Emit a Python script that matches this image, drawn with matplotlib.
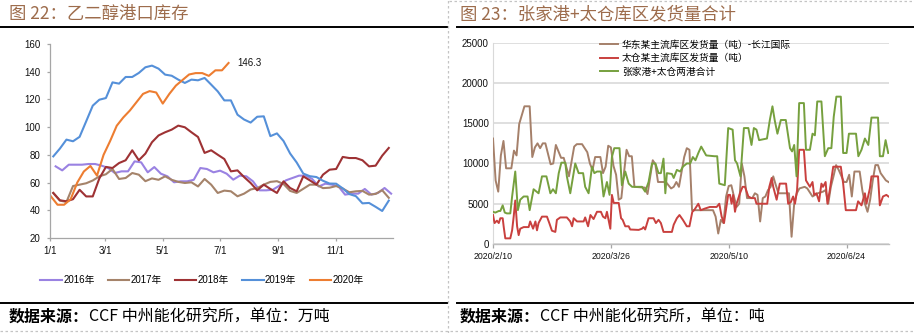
import numpy as np
import pandas as pd
import matplotlib
matplotlib.use("Agg")
import matplotlib.pyplot as plt
from matplotlib.lines import Line2D

plt.rcParams['font.family'] = ['Liberation Sans', 'Noto Sans CJK SC']
CJK = ['Noto Sans CJK SC', 'Liberation Sans']

W, H = 914, 333

# ---------------- left panel: MEG port inventory (weekly, 万吨) ----------------
month_ticks = [0, 59, 120, 181, 243, 304]
month_labels = ['1/1', '3/1', '5/1', '7/1', '9/1', '11/1']
year_labels = ['2016年', '2017年', '2018年', '2019年', '2020年']
year_colors = ['#9a82e2', '#a5836a', '#9e3234', '#5590d9', '#ed7d31']
first_day = [6, 3.5, 3.5, 3.5, 1]

inv_2016 = [71.7, 68.8, 72.9, 72.9, 72.9, 73.4, 73.4, 72.2, 70.5, 66.9, 68.1, 68.1, 75.3,
            74.6, 67.4, 71.2, 66.4, 64.5, 60.2, 60.9, 60.9, 62.0, 70.5, 69.8, 67.4, 68.6,
            66.4, 62.1, 65.0, 64.5, 60.9, 54.4, 54.4, 54.8, 57.7, 61.6, 63.3, 65.0, 65.0,
            62.6, 57.2, 59.2, 58.5, 57.2, 51.3, 52.0, 52.0, 55.4, 51.3, 52.5, 56.1, 52.0]
inv_2017 = [52.5, 47.0, 46.0, 57.5, 58.5, 59.5, 61.5, 64.5, 66.0, 69.8, 62.6, 63.3, 66.9,
            65.7, 61.0, 63.0, 62.0, 64.5, 62.0, 60.5, 59.7, 60.2, 57.2, 62.6, 58.5, 52.5,
            54.2, 53.7, 50.1, 52.0, 55.0, 56.0, 58.5, 60.5, 61.0, 59.0, 54.0, 52.5, 55.5,
            58.5, 58.5, 56.0, 56.3, 57.5, 55.7, 53.0, 53.7, 54.0, 51.3, 51.8, 54.5, 49.0]
inv_2018 = [52.5, 47.2, 46.5, 48.0, 54.8, 50.0, 50.0, 63.0, 71.3, 70.5, 74.1, 76.1, 83.3,
            76.1, 80.9, 89.1, 94.0, 96.3, 98.2, 101.1, 99.9, 96.3, 92.9, 81.4, 83.3, 80.1,
            77.0, 68.1, 68.8, 64.0, 59.7, 54.4, 58.5, 55.4, 52.5, 60.9, 56.1, 53.7, 64.5,
            61.6, 58.5, 65.7, 69.3, 69.8, 78.5, 77.7, 77.7, 76.1, 71.7, 72.2, 79.4, 85.0]
inv_2019 = [78.9, 84.5, 91.0, 89.8, 93.0, 104.2, 115.5, 119.8, 121.0, 132.3, 131.4, 136.2,
            136.2, 139.1, 143.2, 144.4, 142.2, 137.9, 137.1, 134.3, 131.9, 134.3, 133.8,
            135.5, 130.7, 125.8, 119.3, 119.3, 109.0, 105.5, 103.3, 107.5, 107.8, 93.5,
            95.5, 90.0, 81.0, 74.5, 66.5, 64.6, 64.0, 61.3, 59.3, 59.2, 55.8, 51.7, 50.2,
            45.0, 45.3, 42.5, 39.5, 47.0]
inv_2020 = [50.0, 44.0, 44.0, 48.0, 60.0, 68.0, 72.0, 65.0, 80.0, 90.0, 101.0, 107.0, 112.0,
            118.0, 124.0, 126.0, 125.0, 117.0, 124.0, 130.0, 134.0, 138.0, 139.0, 139.0,
            137.0, 141.0, 141.0, 146.3]
inventories = [inv_2016, inv_2017, inv_2018, inv_2019, inv_2020]

# ---------------- right panel: daily shipments (吨) ----------------
ship_start = pd.Timestamp('2020-02-10')
ship_tick_days = [0, 45, 90, 135]
ship_labels = ['华东某主流库区发货量（吨）-长江国际', '太仓某主流库区发货量（吨）', '张家港+太仓两港合计']
ship_colors = ['#a5806a', '#c9403e', '#76a03e']

# (days after 2020/2/10, tonnes)
huadong_pts = [(0, 13100), (1, 7900), (2, 6500), (3, 11000), (4, 12800), (5, 9400), (7, 9400),
               (8, 11600), (9, 11000), (10, 14900), (12, 17100), (14, 17100), (15, 10800),
               (16, 12000), (17, 12500), (18, 11900), (19, 12500), (20, 12500), (22, 9900),
               (23, 10000), (24, 12300), (26, 10700), (27, 10700), (29, 8400), (31, 12100),
               (32, 12400), (34, 12400), (36, 11400), (37, 10000), (38, 9200), (39, 10800),
               (41, 10800), (42, 8800), (43, 9600), (44, 12200), (45, 12000), (46, 9700),
               (47, 8600), (48, 5500), (49, 5700), (50, 8800), (51, 11700), (52, 10900),
               (53, 10900), (54, 7100), (58, 7000), (59, 6200), (61, 10400), (62, 9900),
               (63, 7700), (66, 7700), (68, 6900), (69, 7100), (70, 7700), (71, 7100),
               (73, 10800), (74, 11900), (75, 11700), (76, 4200), (84, 4200), (85, 3400),
               (86, 1300), (87, 3000), (88, 2600), (89, 5900), (90, 7200), (91, 7300),
               (92, 5900), (93, 4600), (94, 5000), (95, 10000), (96, 8400), (97, 5700),
               (99, 5700), (100, 6300), (101, 6100), (102, 2800), (103, 5700), (104, 5900),
               (105, 6700), (106, 7100), (107, 8400), (108, 7300), (109, 6300), (113, 6300),
               (114, 900), (115, 5000), (116, 6300), (117, 6900), (119, 7100), (120, 6900),
               (122, 5900), (124, 6300), (126, 6500), (127, 6700), (128, 5000), (129, 7100),
               (130, 8400), (131, 9800), (132, 9200), (134, 7700), (135, 7700), (136, 8600),
               (137, 5900), (138, 9000), (140, 9000), (141, 6700), (142, 5000), (143, 4000),
               (144, 5500), (145, 7900), (146, 9800), (147, 9800), (148, 8800), (150, 7900),
               (151, 7700)]
taicang_pts = [(0, 3600), (0.6, 2600), (1.5, 2900), (2.2, 2600), (2.8, 3200), (3.7, 3200),
               (4.1, 2100), (4.7, 700), (6.6, 700), (7.3, 1700), (7.9, 3400), (8.5, 5400),
               (9.2, 2200), (9.8, 1100), (10.4, 1900), (11.7, 2100), (13.6, 2100), (14.2, 2800),
               (15.3, 1900), (16.2, 2800), (16.8, 1700), (17.4, 2600), (18.7, 3400), (20.6, 3400),
               (21.5, 2600), (22.5, 1650), (23.8, 1500), (24.4, 3000), (25.7, 3300), (28.2, 3300),
               (29.5, 2800), (30.2, 2200), (30.8, 3200), (32.1, 2800), (34.6, 2800), (35.2, 3300),
               (36.3, 2200), (37.2, 3600), (38.4, 3100), (39.7, 4000), (41.2, 4000), (42.0, 3400),
               (42.9, 3200), (43.5, 4000), (44.1, 3000), (44.8, 1900), (45.4, 6100), (46.1, 5100),
               (48.0, 5100), (48.9, 3200), (49.5, 3000), (50.5, 2200), (51.8, 2200), (52.4, 1800),
               (55.6, 1750), (56.9, 1900), (57.5, 2100), (58.1, 1800), (59.4, 3200), (61.3, 3200),
               (62.2, 2600), (63.2, 3000), (64.1, 2600), (65.1, 1500), (68.3, 1500), (69.0, 2400),
               (70.2, 3200), (71.2, 3600), (72.5, 3000), (74.0, 2200), (75.0, 2200), (76.1, 4000),
               (76.8, 4200), (78.4, 5000), (79.3, 4200), (80.9, 4400), (82.8, 4600), (85.4, 4600),
               (86.4, 5000), (87.3, 3400), (88.2, 2600), (89.8, 6100), (90.5, 6100), (91.1, 5000),
               (91.7, 6100), (92.4, 4000), (93.0, 5000), (94.3, 6300), (95.3, 7100), (96.2, 7100),
               (97.5, 5900), (98.7, 5700), (100.0, 5700), (100.6, 5000), (104.7, 5000),
               (105.5, 7100), (106.4, 8200), (107.0, 7100), (108.3, 5500), (109.5, 7500),
               (111.9, 7500), (112.7, 5000), (113.7, 5200), (114.6, 5900), (115.3, 5000),
               (116.1, 6700), (116.9, 11700), (118.7, 11700), (119.5, 7900), (121.0, 7100),
               (122.0, 7700), (122.6, 6100), (123.5, 6300), (124.5, 5300), (125.4, 7500),
               (126.0, 7100), (127.0, 7700), (127.7, 5000), (128.6, 6700), (129.9, 9600),
               (132.8, 9600), (133.7, 7500), (134.7, 4200), (138.6, 4200), (139.4, 5300),
               (140.7, 4800), (142.0, 6300), (142.6, 5000), (143.9, 6900), (144.5, 8400),
               (147.0, 8400), (147.7, 4800), (148.9, 5900), (150.2, 6100), (151.0, 5900)]
total_pts = [(0, 4000), (0.9, 3900), (2.2, 4100), (2.8, 4100), (3.7, 4800), (4.5, 3900),
             (5.3, 3800), (6.6, 3800), (7.3, 5900), (8.5, 9000), (9.5, 4200), (10.4, 5500),
             (11.7, 5900), (13.2, 5900), (14.0, 4200), (15.5, 6800), (17.4, 6300), (18.7, 8400),
             (20.4, 8400), (21.9, 6300), (22.9, 6800), (24.0, 6300), (25.1, 8800), (26.1, 10100),
             (27.6, 10100), (28.2, 8400), (29.5, 6300), (31.4, 10000), (32.7, 8800), (34.4, 8800),
             (35.2, 7100), (36.5, 6300), (37.8, 9600), (38.7, 8800), (39.7, 9000), (41.2, 9000),
             (42.2, 5900), (43.5, 7700), (44.5, 6100), (45.4, 10800), (46.3, 11900),
             (48.3, 11900), (49.2, 7300), (50.5, 9000), (51.8, 7500), (53.1, 7100), (56.9, 7100),
             (58.1, 6500), (59.4, 7700), (60.7, 10000), (62.0, 10000), (63.2, 8800), (64.1, 8800),
             (65.1, 10600), (65.8, 6300), (66.4, 8800), (68.3, 8700), (69.0, 8200), (70.2, 9200),
             (71.5, 9000), (72.5, 9600), (74.0, 10000), (75.3, 10000), (76.3, 10800),
             (77.3, 10400), (78.4, 11300), (79.5, 12100), (81.4, 11000), (84.6, 10900),
             (85.6, 10900), (86.4, 7500), (88.5, 7300), (89.8, 14400), (91.5, 14200),
             (92.4, 10400), (93.2, 10000), (94.5, 8400), (95.8, 14400), (97.5, 14400),
             (98.7, 12300), (99.6, 14400), (100.6, 14200), (101.6, 12900), (104.6, 13100),
             (105.7, 15400), (106.7, 17100), (107.6, 15300), (108.6, 13700), (109.9, 15400),
             (111.8, 15400), (113.4, 11900), (114.2, 11500), (115.0, 12300), (115.9, 8400),
             (116.9, 17500), (118.7, 17500), (119.5, 11700), (121.0, 11700), (122.0, 13700),
             (122.9, 13500), (123.8, 17700), (125.4, 17700), (126.7, 10900), (128.0, 11900),
             (129.2, 11900), (130.1, 15800), (131.1, 18300), (132.8, 18300), (133.7, 11300),
             (135.0, 11300), (135.9, 13700), (138.6, 13700), (139.5, 10900), (140.7, 11700),
             (142.0, 13100), (143.3, 12300), (144.5, 15700), (147.0, 15700), (147.7, 10900),
             (148.9, 10900), (149.9, 12900), (150.9, 11300)]
shipments = [huadong_pts, taicang_pts, total_pts]


def fx(x):
    return x / W


def fy(y):
    return 1 - y / H


fig = plt.figure(figsize=(W / 100, H / 100), dpi=100)
fig.patch.set_facecolor('white')

# ---- left chart ----
ax1 = fig.add_axes([fx(50), fy(238), fx(393 - 50), (238 - 44) / H])
lines = []
for vals, d0, c, lab in zip(inventories, first_day, year_colors, year_labels):
    x = d0 + 7 * np.arange(len(vals))
    ln, = ax1.plot(x, vals, color=c, lw=1.5, label=lab, solid_joinstyle='round')
    lines.append(ln)
x_last = first_day[-1] + 7 * (len(inv_2020) - 1)
ax1.annotate(f'{inv_2020[-1]}', xy=(x_last, inv_2020[-1]), xytext=(6, 0),
             textcoords='offset points', va='center', ha='left', fontsize=7, color='#111111')
ax1.set_xlim(0, 365)
ax1.set_ylim(20, 160)
ax1.set_yticks(np.arange(20, 161, 20))
ax1.set_xticks(month_ticks)
ax1.set_xticklabels(month_labels)
for s in ['top', 'right']:
    ax1.spines[s].set_visible(False)
for s in ['left', 'bottom']:
    ax1.spines[s].set_color('#a6a6a6')
    ax1.spines[s].set_linewidth(0.9)
ax1.tick_params(axis='both', colors='#a6a6a6', labelcolor='#111111', labelsize=7,
                length=2.5, width=0.9)
ax1.tick_params(axis='y', pad=4.5)
ax1.tick_params(axis='x', pad=3.5)

fig.legend(lines, year_labels, ncol=5, loc='center', bbox_to_anchor=(fx(202), fy(280)),
           frameon=False, fontsize=7, handlelength=2.2, handletextpad=0.15,
           columnspacing=1.35, prop={'family': ['Liberation Sans', 'Noto Sans CJK SC'], 'size': 7})

# ---- right chart ----
ax2 = fig.add_axes([fx(493), fy(244), fx(889 - 493), (244 - 42.7) / H])
for pts, c, lab in zip(shipments, ship_colors, ship_labels):
    d = [p[0] for p in pts]
    v = [p[1] for p in pts]
    ax2.plot(d, v, color=c, lw=1.4, label=lab, zorder=3)
ax2.set_xlim(0, 151.2)
ax2.set_ylim(0, 25000)
ax2.set_yticks(np.arange(0, 25001, 5000))
ax2.set_xticks(ship_tick_days)
tick_dates = [ship_start + pd.Timedelta(days=d) for d in ship_tick_days]
ax2.set_xticklabels([f'{t.year}/{t.month}/{t.day}' for t in tick_dates])
ax2.grid(axis='y', color='#d9d9d9', lw=1.2, zorder=0)
ax2.set_axisbelow(True)
for s in ['top', 'right']:
    ax2.spines[s].set_visible(False)
ax2.spines['left'].set_color('#d9d9d9')
ax2.spines['bottom'].set_color('#bfbfbf')
ax2.spines['bottom'].set_linewidth(1.0)
ax2.tick_params(axis='y', length=0, labelsize=7, pad=3, labelcolor='#111111')
ax2.tick_params(axis='x', length=3, width=0.9, color='#a6a6a6', labelsize=6.3, pad=3,
                labelcolor='#111111')
ax2.legend(loc='upper left', bbox_to_anchor=(0.27, 1.015), frameon=False,
           prop={'family': CJK, 'size': 7}, handlelength=1.9, handletextpad=0.35,
           labelspacing=0.35, borderpad=0, borderaxespad=0)

# ---- titles, rules, footers ----
title_color = '#9d6c4c'
fig.text(fx(9), fy(14), '图 22：乙二醇港口库存', family=CJK, fontsize=12.5,
         color=title_color, va='center', ha='left')
fig.text(fx(460), fy(14), '图 23：张家港+太仓库区发货量合计', family=CJK, fontsize=12.5,
         color=title_color, va='center', ha='left')

for x0, x1 in [(0, 447), (457, 914)]:
    for yy in (27, 302.7):
        fig.add_artist(Line2D([fx(x0), fx(x1)], [fy(yy), fy(yy)], color='black', lw=1.4,
                              transform=fig.transFigure))

dash = dict(color='#c4c4c4', lw=0.9, linestyle=(0, (2, 2)), transform=fig.transFigure)
fig.add_artist(Line2D([fx(448), fx(448)], [0, 1], **dash))
fig.add_artist(Line2D([0, 1], [fy(331), fy(331)], **dash))
fig.add_artist(Line2D([fx(449), 1], [fy(0.8), fy(0.8)], **dash))

renderer = fig.canvas.get_renderer()
for x0, rest in [(9, 'CCF 中州能化研究所，单位：万吨'), (460, 'CCF 中州能化研究所，单位：吨')]:
    t = fig.text(fx(x0), fy(317), '数据来源：', family=CJK, fontsize=11.5, fontweight='bold',
                 color='black', va='center', ha='left')
    bb = t.get_window_extent(renderer=renderer)
    fig.text(bb.x1 / W, fy(317), rest, family=CJK, fontsize=11.5, color='black',
             va='center', ha='left')

fig.savefig('out.png', dpi=100, facecolor='white')
